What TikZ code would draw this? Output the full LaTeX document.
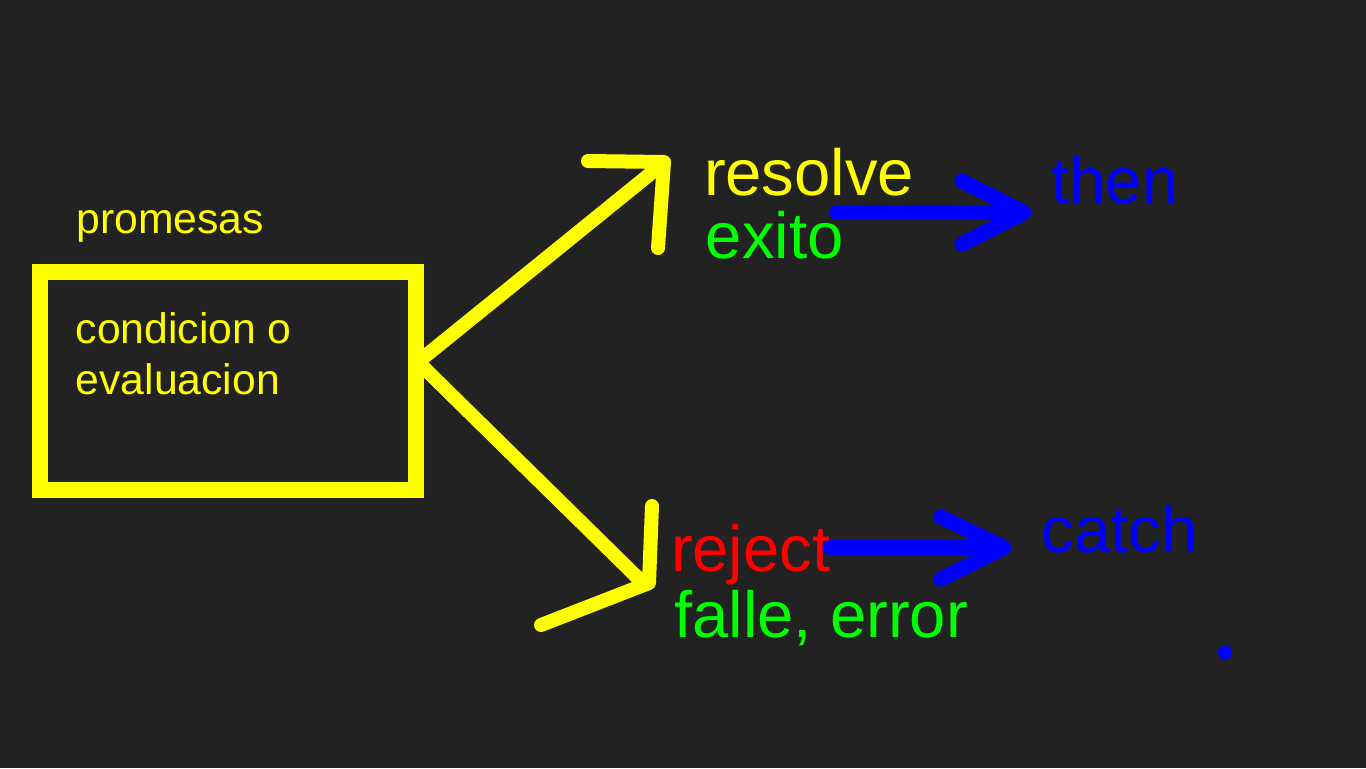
\documentclass[tikz,border=0pt]{standalone}
\usepackage{fontspec}
\setmainfont{Liberation Sans}
\definecolor{bg}{HTML}{222222}
\definecolor{yel}{HTML}{FFFF00}
\definecolor{blu}{HTML}{0000FF}
\definecolor{grn}{HTML}{00FF00}
\definecolor{rd}{HTML}{FF0000}
\begin{document}
\begin{tikzpicture}[x=0.5pt,y=-0.5pt,
  big/.style={inner sep=0pt,anchor=base west,font=\fontsize{32.6}{39}\selectfont},
  small/.style={inner sep=0pt,anchor=base west,font=\fontsize{21.35}{26}\selectfont,text=yel},
  yl/.style={draw=yel,line width=7pt,line cap=round,line join=round},
  bl/.style={draw=blu,line width=7.5pt,line cap=round,line join=round}]
\fill[bg] (0,0) rectangle (1366,768);
\useasboundingbox (0,0) rectangle (1366,768);
% box
\node[draw=yel,line width=8pt,minimum width=188pt,minimum height=109pt,inner sep=0pt] (box) at (228,381) {};
\node[small] (prom) at (76,233) {promesas};
\node[small] (cond1) at (75.3,343) {condicion o};
\node[small] (cond2) at (75.3,394) {evaluacion};
% texts
\node[big,text=yel] (resolve) at (703.6,195) {resolve};
\node[big,text=grn] (exito) at (705.4,258) {exito};
\node[big,text=blu] (then) at (1051,203) {then};
\node[big,text=rd] (reject) at (670.6,571) {reject};
\node[big,text=grn] (falle) at (674,637) {falle, error};
\node[big,text=blu] (catch) at (1041.5,552) {catch};
% yellow connectors
\coordinate (j) at (418,362);
\coordinate (ua) at (655,170);
\coordinate (la) at (642,582);
\draw[yl] (j) -- (ua);
\draw[yl] (j) -- (la);
\draw[yl] (588,161) -- (664,162) -- (658,248);
\draw[yl] (652,506) -- (649,583) -- (541,625);
% blue arrows
\coordinate (b1s) at (837,212.5);
\coordinate (b1e) at (1022,212.5);
\coordinate (b2s) at (830,547.5);
\coordinate (b2e) at (1003,547.5);
\draw[bl] (b1s) -- (b1e);
\draw[bl] (962,181) -- (1024,212.5) -- (962,244);
\draw[bl] (b2s) -- (b2e);
\draw[bl] (941,517) -- (1004,547.5) -- (941,579);
\fill[blu] (1225,652.5) circle (3.5pt);
\end{tikzpicture}
\end{document}
